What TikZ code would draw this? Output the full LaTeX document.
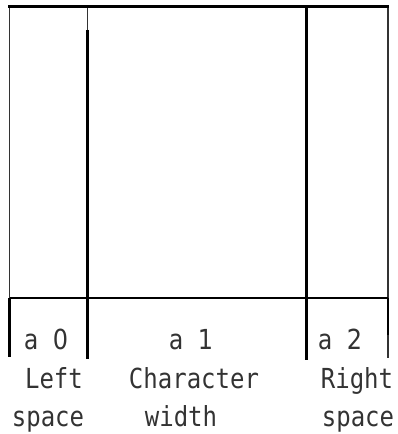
\documentclass[tikz,border=0pt]{standalone}
\usepackage{fontspec}
\newfontfamily\labfont{DejaVu Sans Mono}
\newfontfamily\digfont{DejaVu Sans}
\newcommand{\tallt}[1]{\scalebox{1}[1.15]{#1}}
\begin{document}
\begin{tikzpicture}[x=1pt,y=1pt,
  thinline/.style={line width=1.9pt,black!80},
  thickline/.style={line width=3pt,black},
  hline/.style={line width=1.2pt,black},
  lab/.style={font=\labfont\fontsize{24}{26}\selectfont,anchor=base,inner sep=0pt,text=black!80}]
\useasboundingbox (0,0) rectangle (397,434);
% coordinates
\coordinate (tl) at (8,427.5);
\coordinate (tr) at (389,427.5);
\coordinate (l1) at (9.5,427.5);
\coordinate (l2) at (9.5,136);
\coordinate (l3) at (9.5,77);
\coordinate (m1) at (87.5,427.5);
\coordinate (m2) at (87.5,404);
\coordinate (m3) at (87.5,75);
\coordinate (n1) at (306,427.5);
\coordinate (n2) at (306,74);
\coordinate (r1) at (388,427.5);
\coordinate (r2) at (388,136);
\coordinate (r3) at (388,99);
\coordinate (r4) at (388,76);
% lines
\draw[thinline] (l1) -- (l2);
\draw[thickline,line width=2.6pt] (l2) -- (l3);
\draw[thinline] (m1) -- (m2);
\draw[thickline] (m2) -- (m3);
\draw[thickline] (n1) -- (n2);
\draw[thinline] (r1) -- (r2);
\draw[thickline,line width=2.6pt] (r2) -- (r3);
\draw[thinline] (r3) -- (r4);
\draw[hline] (l2) -- (r2);
\draw[thickline] (tl) -- (tr);
% labels
\node[lab] (a0) at (46,84) {\tallt{a {\digfont 0}}};
\node[lab] (a1) at (191,84) {\tallt{a {\digfont 1}}};
\node[lab] (a2) at (340,84) {\tallt{a {\digfont 2}}};
\node[lab] (left) at (54,45) {\tallt{Left}};
\node[lab] (char) at (194,45) {\tallt{Character}};
\node[lab] (right) at (357,45) {\tallt{Right}};
\node[lab] (sp1) at (48,7) {\tallt{space}};
\node[lab] (wid) at (181,7) {\tallt{width}};
\node[lab] (sp2) at (358,7) {\tallt{space}};
\end{tikzpicture}
\end{document}
